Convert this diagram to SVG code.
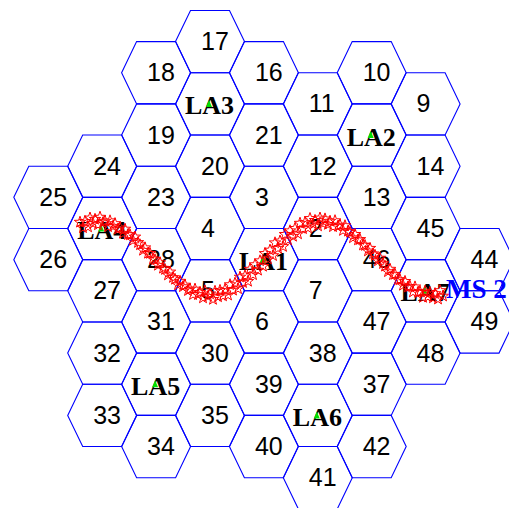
<svg xmlns="http://www.w3.org/2000/svg" xmlns:xlink="http://www.w3.org/1999/xlink" width="509" height="508" viewBox="0 0 509 508">
<style>
.hex{fill:none;stroke:#0000ff;stroke-width:1.1}
.num{font-family:"Liberation Sans",Arial,sans-serif;font-size:25px;fill:#000}
.la{font-family:"Liberation Serif","Times New Roman",serif;font-size:26px;font-weight:bold;fill:#000}
.bs{fill:#00e000}
.ms{font-family:"Liberation Serif","Times New Roman",serif;font-size:27px;font-weight:bold;fill:#0000ff}
.traj{fill:none;stroke:none;marker-start:url(#star);marker-mid:url(#star);marker-end:url(#star)}
</style>
<defs>
<polygon id="hex" points="-34.5,0 -19.5,-31.15 19.5,-31.15 34.5,0 19.5,31.15 -19.5,31.15"/>
<polygon id="bsm" points="-1,-4 -4,3 2,3"/>
<marker id="star" markerUnits="userSpaceOnUse" markerWidth="12" markerHeight="12" refX="6" refY="6" viewBox="0 0 12 12" overflow="visible">
<path d="M6,0 L7.41,4.06 L11.71,4.15 L8.28,6.74 L9.53,10.85 L6,8.4 L2.47,10.85 L3.72,6.74 L0.29,4.15 L4.59,4.06 Z" fill="none" stroke="#ff0000" stroke-width="1"/>
</marker>
</defs>
<rect width="509" height="508" fill="#ffffff"/>
<g id="cells">
<g id="c25"><use href="#hex" class="hex" x="48.3" y="197.35"/><text class="num" x="39.3" y="205.85">25</text></g>
<g id="c26"><use href="#hex" class="hex" x="48.3" y="259.65"/><text class="num" x="39.3" y="268.15">26</text></g>
<g id="c24"><use href="#hex" class="hex" x="102.2" y="166.2"/><text class="num" x="93.2" y="174.7">24</text></g>
<g id="c27"><use href="#hex" class="hex" x="102.2" y="290.8"/><text class="num" x="93.2" y="299.3">27</text></g>
<g id="c32"><use href="#hex" class="hex" x="102.2" y="353.1"/><text class="num" x="93.2" y="361.6">32</text></g>
<g id="c33"><use href="#hex" class="hex" x="102.2" y="415.4"/><text class="num" x="93.2" y="423.9">33</text></g>
<g id="c18"><use href="#hex" class="hex" x="156.1" y="72.75"/><text class="num" x="147.1" y="81.25">18</text></g>
<g id="c19"><use href="#hex" class="hex" x="156.1" y="135.05"/><text class="num" x="147.1" y="143.55">19</text></g>
<g id="c23"><use href="#hex" class="hex" x="156.1" y="197.35"/><text class="num" x="147.1" y="205.85">23</text></g>
<g id="c28"><use href="#hex" class="hex" x="156.1" y="259.65"/><text class="num" x="147.1" y="268.15">28</text></g>
<g id="c31"><use href="#hex" class="hex" x="156.1" y="321.95"/><text class="num" x="147.1" y="330.45">31</text></g>
<g id="c34"><use href="#hex" class="hex" x="156.1" y="446.55"/><text class="num" x="147.1" y="455.05">34</text></g>
<g id="c17"><use href="#hex" class="hex" x="210" y="41.6"/><text class="num" x="201" y="50.1">17</text></g>
<g id="c20"><use href="#hex" class="hex" x="210" y="166.2"/><text class="num" x="201" y="174.7">20</text></g>
<g id="c4"><use href="#hex" class="hex" x="210" y="228.5"/><text class="num" x="201" y="237">4</text></g>
<g id="c5"><use href="#hex" class="hex" x="210" y="290.8"/><text class="num" x="201" y="299.3">5</text></g>
<g id="c30"><use href="#hex" class="hex" x="210" y="353.1"/><text class="num" x="201" y="361.6">30</text></g>
<g id="c35"><use href="#hex" class="hex" x="210" y="415.4"/><text class="num" x="201" y="423.9">35</text></g>
<g id="c16"><use href="#hex" class="hex" x="263.9" y="72.75"/><text class="num" x="254.9" y="81.25">16</text></g>
<g id="c21"><use href="#hex" class="hex" x="263.9" y="135.05"/><text class="num" x="254.9" y="143.55">21</text></g>
<g id="c3"><use href="#hex" class="hex" x="263.9" y="197.35"/><text class="num" x="254.9" y="205.85">3</text></g>
<g id="c6"><use href="#hex" class="hex" x="263.9" y="321.95"/><text class="num" x="254.9" y="330.45">6</text></g>
<g id="c39"><use href="#hex" class="hex" x="263.9" y="384.25"/><text class="num" x="254.9" y="392.75">39</text></g>
<g id="c40"><use href="#hex" class="hex" x="263.9" y="446.55"/><text class="num" x="254.9" y="455.05">40</text></g>
<g id="c11"><use href="#hex" class="hex" x="317.8" y="103.9"/><text class="num" x="308.8" y="112.4">11</text></g>
<g id="c12"><use href="#hex" class="hex" x="317.8" y="166.2"/><text class="num" x="308.8" y="174.7">12</text></g>
<g id="c2"><use href="#hex" class="hex" x="317.8" y="228.5"/><text class="num" x="308.8" y="237">2</text></g>
<g id="c7"><use href="#hex" class="hex" x="317.8" y="290.8"/><text class="num" x="308.8" y="299.3">7</text></g>
<g id="c38"><use href="#hex" class="hex" x="317.8" y="353.1"/><text class="num" x="308.8" y="361.6">38</text></g>
<g id="c41"><use href="#hex" class="hex" x="317.8" y="477.7"/><text class="num" x="308.8" y="486.2">41</text></g>
<g id="c10"><use href="#hex" class="hex" x="371.7" y="72.75"/><text class="num" x="362.7" y="81.25">10</text></g>
<g id="c13"><use href="#hex" class="hex" x="371.7" y="197.35"/><text class="num" x="362.7" y="205.85">13</text></g>
<g id="c46"><use href="#hex" class="hex" x="371.7" y="259.65"/><text class="num" x="362.7" y="268.15">46</text></g>
<g id="c47"><use href="#hex" class="hex" x="371.7" y="321.95"/><text class="num" x="362.7" y="330.45">47</text></g>
<g id="c37"><use href="#hex" class="hex" x="371.7" y="384.25"/><text class="num" x="362.7" y="392.75">37</text></g>
<g id="c42"><use href="#hex" class="hex" x="371.7" y="446.55"/><text class="num" x="362.7" y="455.05">42</text></g>
<g id="c9"><use href="#hex" class="hex" x="425.6" y="103.9"/><text class="num" x="416.6" y="112.4">9</text></g>
<g id="c14"><use href="#hex" class="hex" x="425.6" y="166.2"/><text class="num" x="416.6" y="174.7">14</text></g>
<g id="c45"><use href="#hex" class="hex" x="425.6" y="228.5"/><text class="num" x="416.6" y="237">45</text></g>
<g id="c48"><use href="#hex" class="hex" x="425.6" y="353.1"/><text class="num" x="416.6" y="361.6">48</text></g>
<g id="c44"><use href="#hex" class="hex" x="479.5" y="259.65"/><text class="num" x="470.5" y="268.15">44</text></g>
<g id="c49"><use href="#hex" class="hex" x="479.5" y="321.95"/><text class="num" x="470.5" y="330.45">49</text></g>
</g>
<g id="las">
<g id="LA3"><use href="#hex" class="hex" x="210" y="103.9"/><text class="la" x="185" y="114.4">LA3</text><use href="#bsm" class="bs" x="210" y="103.9"/></g>
<g id="LA2"><use href="#hex" class="hex" x="371.7" y="135.05"/><text class="la" x="346.7" y="145.5">LA2</text><use href="#bsm" class="bs" x="371.7" y="135.05"/></g>
<g id="LA4"><use href="#hex" class="hex" x="102.2" y="228.5"/><text class="la" x="77.2" y="239">LA4</text><use href="#bsm" class="bs" x="102.2" y="228.5"/></g>
<g id="LA1"><use href="#hex" class="hex" x="263.9" y="259.65"/><text class="la" x="238.9" y="270.2">LA1</text><use href="#bsm" class="bs" x="263.9" y="259.65"/></g>
<g id="LA5"><use href="#hex" class="hex" x="156.1" y="384.25"/><text class="la" x="131.1" y="394.8">LA5</text><use href="#bsm" class="bs" x="156.1" y="384.25"/></g>
<g id="LA6"><use href="#hex" class="hex" x="317.8" y="415.4"/><text class="la" x="292.8" y="425.9">LA6</text><use href="#bsm" class="bs" x="317.8" y="415.4"/></g>
<g id="LA7"><use href="#hex" class="hex" x="425.6" y="290.8"/><text class="la" x="400.6" y="301.3">LA7</text><use href="#bsm" class="bs" x="425.6" y="290.8"/></g>
</g>
<g id="trajectory">
<path id="trackA" class="traj" transform="translate(0,-2.5)" d="M80,224.7 L85,223.9 L90,220.5 L95,221.8 L100,219.7 L105,223.7 L110,223.3 L115,226.1 L120,230.3 L125,231.6 L130,237.4 L135,239.5 L140,247.3 L145,250.3 L150,255.9 L155,262.3 L160,265.2 L165,272 L170,274.5 L175,281.8 L180,283.7 L185,287.6 L190,291.6 L195,291.6 L200,294.9 L205,293.4 L210,296.4 L215,293.8 L220,292.9 L225,292.1 L230,287.2 L235,285.7 L240,279.6 L245,278.3 L250,271.7 L255,267.2 L260,263.3 L265,256 L270,252.6 L275,245.3 L280,243.5 L285,236.9 L290,233.3 L295,230.9 L300,225.7 L305,225 L310,221 L315,222.9 L320,220.5 L325,221.4 L330,223.7 L335,223.2 L340,227.5 L345,228.2 L350,234.8 L355,236.9 L360,242 L365,248 L370,250.8 L375,257.8 L380,260.6 L385,268.7 L390,271.7 L395,276.8 L400,282.3 L405,283.9 L410,289 L415,289.4 L420,294.4 L425,293.8 L430,294.9 L435,296.1 L440,293.1"/>
<use href="#trackA" transform="translate(3,5.5)"/>
</g>
<g id="ms2"><text class="ms" x="446" y="298.3">MS 2</text></g>
</svg>
